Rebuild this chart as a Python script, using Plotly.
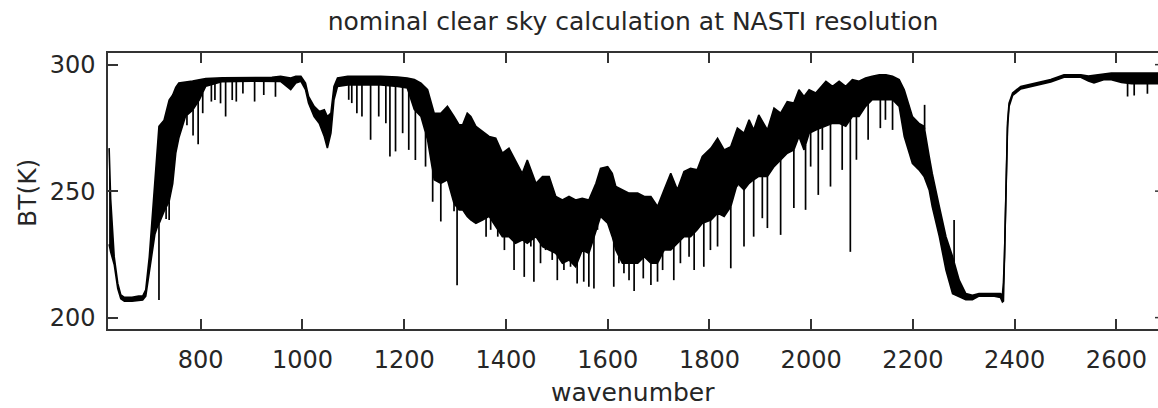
import numpy as np
import plotly.graph_objects as go

# ---- data (wavenumber, brightness temperature) ----
wn_env = [620, 623, 630, 637, 643, 650, 665, 678, 686, 692, 699, 705, 710, 715, 718, 728, 738, 745,
          751, 757, 770, 784, 797, 810, 843, 900, 940, 957, 977, 987, 997, 1006, 1012, 1023, 1033,
          1043, 1049, 1056, 1062, 1069, 1089, 1121, 1154, 1187, 1206, 1220, 1233, 1246, 1259, 1272,
          1285, 1298, 1308, 1315, 1324, 1331, 1341, 1354, 1367, 1380, 1393, 1406, 1419, 1432, 1442,
          1459, 1472, 1485, 1498, 1511, 1524, 1537, 1550, 1563, 1577, 1586, 1600, 1609, 1616, 1629,
          1642, 1659, 1672, 1685, 1698, 1711, 1724, 1737, 1750, 1763, 1776, 1786, 1803, 1816, 1829,
          1842, 1855, 1868, 1878, 1887, 1897, 1914, 1927, 1940, 1953, 1966, 1976, 1986, 1996, 2009,
          2029, 2042, 2055, 2068, 2081, 2094, 2107, 2120, 2134, 2147, 2160, 2173, 2183, 2193, 2199,
          2212, 2222, 2232, 2238, 2252, 2265, 2278, 2291, 2304, 2317, 2330, 2343, 2360, 2372, 2376,
          2378, 2380, 2383, 2386, 2389, 2396, 2412, 2438, 2471, 2497, 2530, 2545, 2556, 2575, 2590,
          2610, 2630, 2650, 2682]
bt_top = [267, 247, 224, 213.5, 209, 208, 208, 208.5, 208.5, 211, 224, 240, 254, 268, 275.6, 278, 286, 288,
          291, 292.7, 293, 293.5, 294, 294.5, 294.8, 294.9, 295, 295.4, 294.7, 295.4, 295.4, 292.7, 287.4,
          283.5, 281.5, 282.2, 279.5, 280.8, 291.4, 294.7, 295.4, 295.4, 295.4, 295.1, 294.7, 294.1, 292.7,
          290.1, 280.8, 280.8, 283.5, 279.5, 276.2, 276.2, 280.8, 279.5, 275.6, 273.6, 271.6, 270.9, 265,
          267, 261.7, 257, 262.3, 253.1, 255.8, 255.8, 247.9, 246.5, 247.9, 246.5, 247.2, 246.5, 253.1,
          259, 259.7, 257, 251.8, 250.5, 249.2, 249.2, 247.9, 247.9, 243.9, 250.5, 257, 250.5, 257.7,
          259, 258.4, 263.7, 267, 270.9, 266.3, 267.6, 274.9, 272.9, 278.2, 274.2, 280.1, 274.2, 282.8,
          280.8, 285.4, 284.8, 290.1, 287.4, 290.1, 288.8, 293.4, 291.4, 293.4, 291.4, 294.1, 293.4,
          294.7, 295.4, 296, 296, 295.4, 294.1, 290.1, 283.5, 279.5, 276.8, 275.6, 263.7, 257, 243.9,
          232, 224.1, 214.8, 209.5, 208.8, 209.5, 209.5, 209.5, 209.5, 209, 214, 224, 252, 277, 284.8,
          288.8, 291.4, 292.7, 294.1, 296, 296, 295.5, 295.8, 296.2, 296.7, 296.7, 296.7, 296.7, 296.7]
bt_bot = [229, 226, 221, 211.5, 207.5, 206.5, 206.5, 206.8, 207, 208.5, 218, 228, 233, 236, 237, 242, 246, 253,
          265, 271, 279.5, 282, 286, 291.5, 293.3, 293.5, 293.6, 293.4, 290.1, 292.7, 293.4, 290.1, 284.8,
          279.5, 276.8, 271.6, 267, 272.9, 286.1, 291.4, 292, 292, 292, 291.4, 290.8, 282.2, 279.5,
          270.3, 254.5, 253.1, 254.5, 245.2, 242.6, 242.6, 240, 238.6, 237.3, 238.6, 240, 236, 232,
          232, 229.4, 230.7, 229.4, 232, 228.1, 226.7, 225.4, 221.5, 222.8, 220.1, 226.7, 225.4, 234.7,
          240, 237.3, 232, 226.7, 221.5, 221.5, 221.5, 224.1, 221.5, 221.5, 226.7, 226.7, 229.4, 232,
          232, 234.7, 237.3, 238.6, 241.3, 240, 243.9, 253.1, 250.5, 253.1, 254.5, 255.8, 255.8, 259.7,
          262.3, 265, 266.3, 271.6, 266.3, 272.9, 274.2, 275.6, 276.8, 276.8, 275.6, 279.5, 279.5,
          283.5, 286.1, 286.1, 286.1, 286.1, 283.5, 271.6, 265, 261, 258.4, 255.8, 250.5, 243.9, 232,
          218.8, 209.5, 208.2, 207.1, 207.1, 208.5, 208.5, 208.5, 208, 206.2, 206.5, 222, 250, 275, 283.5,
          287.8, 290.4, 291.7, 293.1, 295, 295, 293.5, 292.8, 294, 294, 293, 292.5, 292.5, 292.5]

# deep absorption lines (wavenumber, minimum BT)
spike_wn = [718, 732, 738, 773, 785, 795, 804, 821, 828, 839, 849, 862, 870, 883, 906, 924, 947,
            1091, 1097, 1107, 1117, 1134, 1150, 1164, 1172, 1183, 1197, 1209, 1222, 1242, 1256, 1272,
            1283, 1294, 1298, 1304,
            1321, 1338, 1351, 1361, 1370, 1384, 1397, 1403, 1416, 1426, 1436, 1449, 1455, 1468, 1478,
            1491, 1501, 1514, 1527, 1540, 1553, 1563, 1573, 1580, 1612, 1622, 1632, 1642, 1652,
            1670, 1685, 1698, 1708, 1730, 1743, 1760, 1770, 1789, 1802, 1816, 1842, 1855, 1868, 1887,
            1904, 1914, 1940, 1966, 1989,
            1999, 2014, 2022, 2038, 2061, 2077, 2089, 2112, 2136, 2146, 2160,
            2622, 2635, 2661]
spike_bt = [207, 239, 238.6, 276, 272, 268.5, 280.8, 285.4, 286, 284.7, 279.5, 286, 285.4, 288.6, 285.4, 288, 287.3,
            286.1, 284.8, 280.8, 279.5, 270.3, 279.5, 276.8, 263.7, 265.7, 272.9, 266.3, 262.3, 259.7, 245.8, 238,
            254.5, 250.5, 242, 212.8,
            253.1, 259, 246.5, 232, 234.7, 232, 226.7, 249.2, 218.8, 238.6, 216.1, 228.1, 214.2, 221.5, 226.7,
            222.8, 214.8, 218.8, 220.1, 213.5, 214.2, 212.2, 211.5, 234.7, 212.2, 221.5, 217.5, 214.8, 210.5,
            215.5, 212.9, 214.2, 218.8, 214.8, 221.5, 224.1, 218.8, 220.1, 226.7, 228.1, 219.5, 251.8, 228.1, 232,
            239.3, 235.4, 232.7, 243.3, 242.6,
            259.7, 248.5, 266.3, 251.8, 258.4, 226, 262.4, 270.3, 274.9, 278.2, 274.2,
            287.4, 287.8, 288.5]

# emission lines sticking above the band (wavenumber, maximum BT)
up_wn = [2223, 2281]
up_bt = [284.1, 238.6]

x_ticks = [800, 1000, 1200, 1400, 1600, 1800, 2000, 2200, 2400, 2600]
y_ticks = [200, 250, 300]

# ---- build the figure ----
sx, sy = [], []
for w, b in zip(spike_wn, spike_bt):
    sx += [w, w, None]
    sy += [float(np.interp(w, wn_env, bt_bot)), b, None]
for w, b in zip(up_wn, up_bt):
    sx += [w, w, None]
    sy += [float(np.interp(w, wn_env, bt_top)), b, None]

fig = go.Figure()
fig.add_trace(go.Scatter(x=sx, y=sy, mode="lines", line=dict(color="black", width=1.7),
                         hoverinfo="skip", showlegend=False))
fig.add_trace(go.Scatter(x=wn_env, y=bt_bot, mode="lines", line=dict(color="black", width=1.6),
                         showlegend=False))
fig.add_trace(go.Scatter(x=wn_env, y=bt_top, mode="lines", line=dict(color="black", width=1.6),
                         fill="tonexty", fillcolor="black", showlegend=False))

FONT = "DejaVu Sans"
TXT = "#262626"
AX = "#333333"

fig.update_layout(
    width=1158, height=408,
    margin=dict(l=108, r=0, t=53, b=79),
    paper_bgcolor="white", plot_bgcolor="white",
    font=dict(family=FONT, size=24, color=TXT),
    title=dict(text="nominal clear sky calculation at NASTI resolution",
               x=0.5, xref="paper", xanchor="center",
               y=1 - 21 / 408, yref="container", yanchor="middle",
               font=dict(family=FONT, size=25, color=TXT)),
    showlegend=False,
)
fig.update_xaxes(range=[617.8, 2681.8], tickmode="array", tickvals=x_ticks,
                 ticktext=[str(v) for v in x_ticks],
                 ticks="inside", ticklen=10, tickwidth=1.5, tickcolor=AX,
                 showline=True, linecolor=AX, linewidth=1.5, mirror="ticks",
                 showgrid=False, zeroline=False, ticklabelstandoff=8,
                 tickfont=dict(family=FONT, size=24, color=TXT))
fig.update_yaxes(range=[195.5, 304.6], tickmode="array", tickvals=y_ticks,
                 ticktext=[str(v) for v in y_ticks],
                 ticks="inside", ticklen=10, tickwidth=1.5, tickcolor=AX,
                 showline=True, linecolor=AX, linewidth=1.5, mirror=False,
                 showgrid=False, zeroline=False, ticklabelstandoff=6,
                 tickfont=dict(family=FONT, size=24, color=TXT))

# right-hand ticks (the right axis line itself lies just outside the picture)
for v in y_ticks:
    fig.add_shape(type="line", xref="paper", yref="y", x0=1 - 3 / 1050, x1=1, y0=v, y1=v,
                  line=dict(color=AX, width=1.5))

fig.add_annotation(text="wavenumber", xref="paper", yref="paper", x=0.5,
                   y=(329 - 392) / 276, xanchor="center", yanchor="middle", showarrow=False,
                   font=dict(family=FONT, size=25, color=TXT))
fig.add_annotation(text="BT(K)", xref="paper", yref="paper", x=(27 - 108) / 1050,
                   y=(329 - 193) / 276, xanchor="center", yanchor="middle", showarrow=False,
                   textangle=-90, font=dict(family=FONT, size=25, color=TXT))

fig.write_html("out.html")
